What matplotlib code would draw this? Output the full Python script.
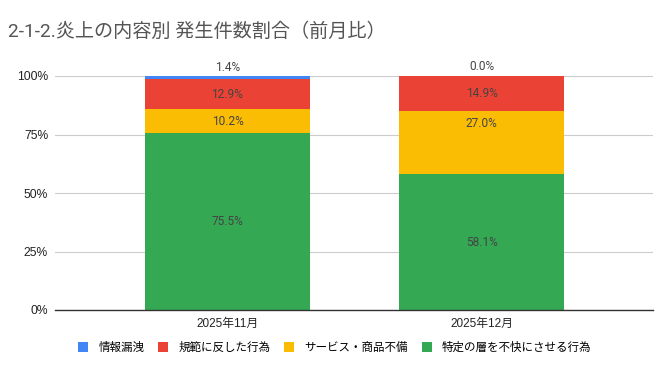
import matplotlib
matplotlib.use("Agg")
import matplotlib.pyplot as plt
from matplotlib.patches import Patch
import numpy as np

plt.rcParams['font.family'] = ['Roboto', 'Noto Sans CJK JP', 'DejaVu Sans']

categories = ["2025年11月", "2025年12月"]
series_names = ["情報漏洩", "規範に反した行為", "サービス・商品不備", "特定の層を不快にさせる行為"]
leak = [1.4, 0.0]
norm = [12.9, 14.9]
service = [10.2, 27.0]
offend = [75.5, 58.1]
colors = ["#4285F4", "#EA4335", "#FBBC04", "#34A853"]
title = "2-1-2.炎上の内容別 発生件数割合（前月比）"

tick_fam = ['Liberation Sans', 'Noto Sans CJK JP', 'DejaVu Sans']

fig = plt.figure(figsize=(6.71, 3.71), dpi=100)
ax = fig.add_axes([55/671, 61/371, 598/671, 234/371])

x = np.arange(len(categories))
stack = [offend, service, norm, leak]
stack_colors = [colors[3], colors[2], colors[1], colors[0]]
bottom = np.zeros(len(categories))
for i, (vals, col) in enumerate(zip(stack, stack_colors)):
    vals = np.array(vals)
    ax.bar(x, vals, width=0.65, bottom=bottom, color=col, zorder=3)
    for xi, v, b in zip(x, vals, bottom):
        if i < 3:
            # Sheets lifts a tall mid-segment label toward its top
            dy = 14 if (i == 1 and v > 20) else 0
            ax.annotate(f"{v:.1f}%", (xi, b + v/2), xytext=(0, dy), textcoords='offset points',
                        ha='center', va='center', fontsize=8.6, color='#444444', zorder=4)
        else:
            ax.annotate(f"{v:.1f}%", (xi, b + v/2), xytext=(0, 7), textcoords='offset points',
                        ha='center', va='center', fontsize=8.6, color='#444444')
    bottom = bottom + vals

ax.set_xlim(-0.679, 1.675)
ax.set_ylim(0, 100)
ax.set_yticks([0, 25, 50, 75, 100])
ax.set_yticklabels(["0%", "25%", "50%", "75%", "100%"], family=tick_fam, fontsize=8.7)
ax.set_xticks(x)
ax.set_xticklabels(categories, family=tick_fam, fontsize=8.5)
ax.tick_params(axis='both', length=0, colors='#222222')
ax.tick_params(axis='y', pad=5)
ax.tick_params(axis='x', pad=6)
ax.grid(axis='y', color='#cccccc', linewidth=0.8, zorder=0)
for s in ['top', 'right', 'left']:
    ax.spines[s].set_visible(False)
ax.spines['bottom'].set_color('#333333')
ax.spines['bottom'].set_linewidth(1.0)
ax.spines['bottom'].set_zorder(5)

fig.text(8/671, 1 - 32/371, title, fontsize=13.8, color='#555555', va='center', ha='left',
         family=['Roboto', 'Noto Sans CJK JP'])

handles = [Patch(facecolor=c, edgecolor='none') for c in colors]
fig.legend(handles, series_names, loc='center', bbox_to_anchor=(335/671, 1 - 347.5/371),
           ncol=4, frameon=False, handlelength=0.85, handleheight=0.85,
           handletextpad=0.9, columnspacing=1.2, borderpad=0, borderaxespad=0,
           prop={'family': ['Noto Sans CJK JP', 'DejaVu Sans'], 'size': 8.3})

fig.savefig("out.png", dpi=100)
